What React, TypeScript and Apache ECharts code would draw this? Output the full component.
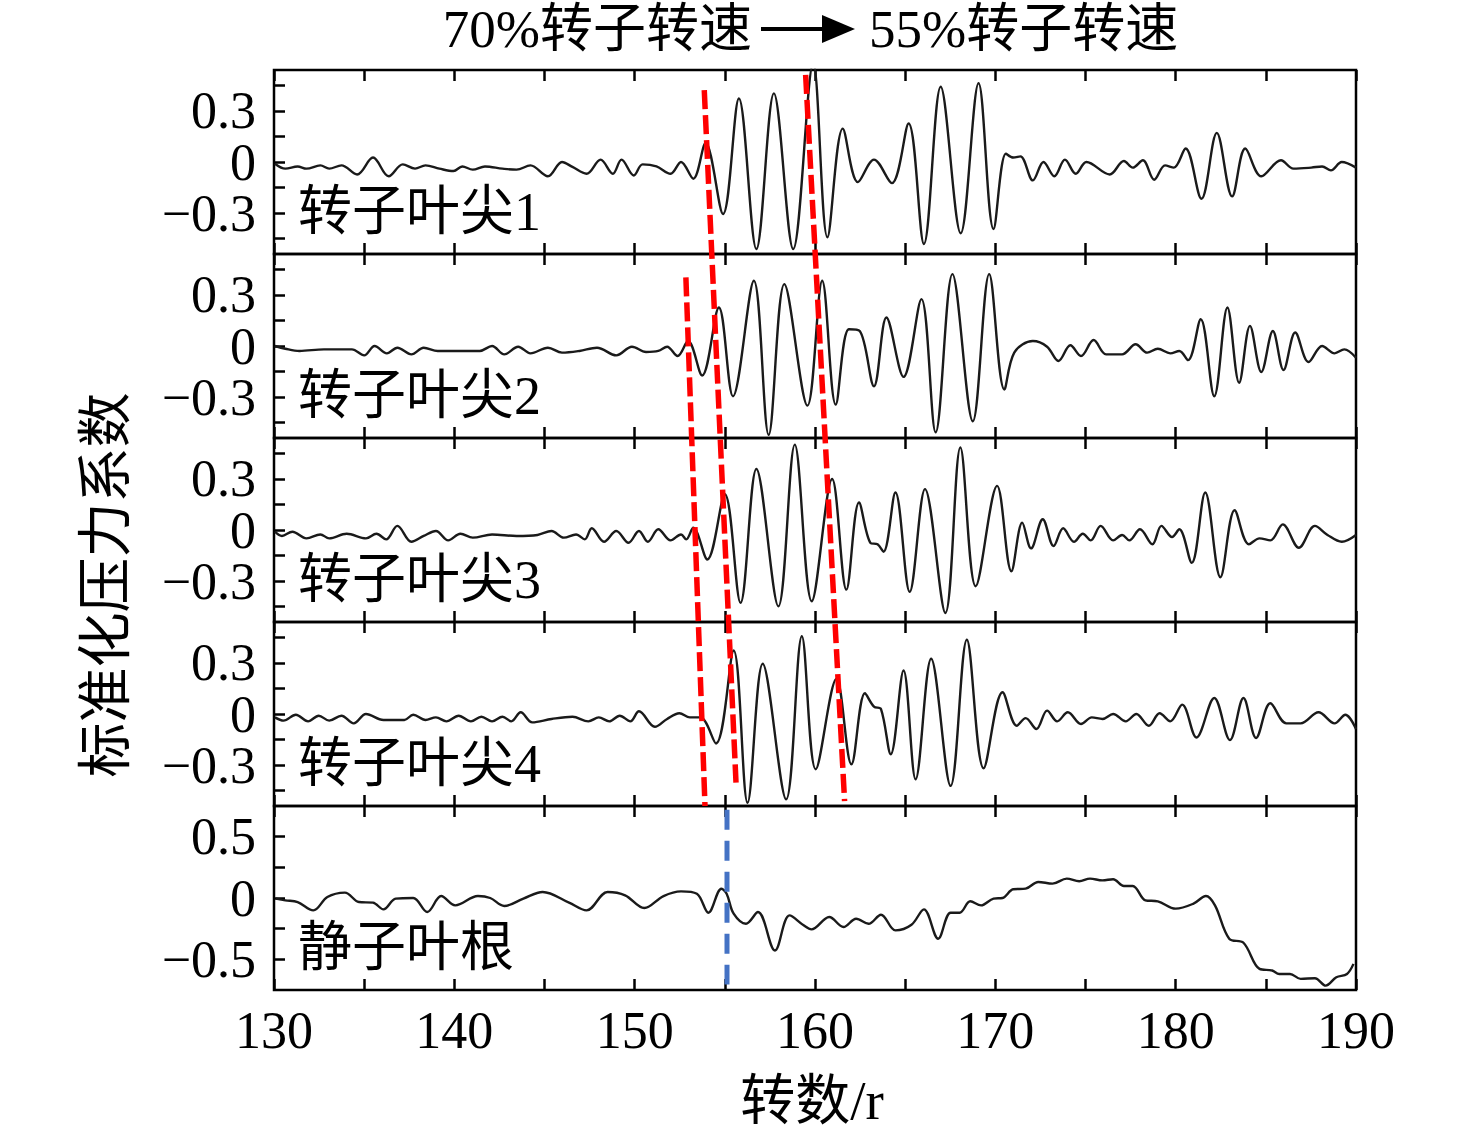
import React, { useEffect, useRef } from "react";
import * as echarts from "echarts";

// ---------- data ----------
const xMin = 130;
const xMax = 190;
const xTickStep = 5;

const panelNames = ["转子叶尖1", "转子叶尖2", "转子叶尖3", "转子叶尖4", "静子叶根"];
const panelRange = [0.54, 0.54, 0.54, 0.54, 0.75];
const tipTickValues = [-0.45, -0.3, -0.15, 0, 0.15, 0.3, 0.45];
const tipLabelValues = [-0.3, 0, 0.3];
const rootTickValues = [-0.5, -0.25, 0, 0.25, 0.5];
const rootLabelValues = [-0.5, 0, 0.5];

const tip1: number[][] = [
  [130.05,-0.010],[130.63,-0.039],[131.31,-0.026],[131.80,-0.039],[132.57,-0.020],[133.06,-0.039],[133.74,-0.020],[134.61,-0.073],[135.49,0.026],[136.36,-0.084],[137.14,-0.014],[137.82,-0.039],[138.40,-0.020],[139.17,-0.039],[139.95,-0.053],[140.44,-0.026],[141.02,-0.045],[141.70,-0.026],[142.67,-0.039],[143.45,-0.045],[144.22,-0.020],[145.19,-0.084],[145.97,0.000],[146.55,-0.029],[147.33,-0.069],[148.11,0.014],[148.79,-0.069],[149.27,0.014],[149.95,-0.079],[150.44,-0.014],[151.21,-0.026],[151.99,-0.069],[152.57,0.000],[153.25,-0.098],[153.93,0.110],[154.90,-0.305],[155.78,0.373],[156.75,-0.511],[157.72,0.403],[158.79,-0.511],[159.90,0.58],[160.69,-0.442],[161.54,0.196],[162.38,-0.118],[163.27,0.014],[164.26,-0.124],[165.19,0.226],[166.04,-0.481],[166.97,0.442],[168.08,-0.418],[169.07,0.462],[169.90,-0.393],[170.59,0.049],[170.99,0.026],[171.39,0.033],[172.08,-0.108],[172.67,0.000],[173.27,-0.084],[173.86,0.014],[174.46,-0.069],[175.05,0.000],[176.34,-0.073],[177.13,0.006],[177.62,-0.033],[178.18,0.010],[178.81,-0.104],[179.41,-0.020],[179.90,-0.033],[180.55,0.079],[181.43,-0.216],[182.28,0.171],[183.13,-0.202],[183.86,0.079],[184.75,-0.084],[185.84,0.010],[186.53,-0.039],[187.52,-0.033],[188.12,-0.026],[188.61,-0.049],[189.21,0.000],[190.00,-0.033],
];

const tip2: number[][] = [
  [130.05,0.000],[130.63,-0.016],[131.41,-0.029],[132.77,-0.020],[134.32,-0.020],[135.00,-0.055],[135.58,0.000],[136.26,-0.043],[136.84,-0.010],[137.62,-0.049],[138.30,-0.010],[139.08,-0.029],[140.34,-0.029],[141.41,-0.029],[142.09,0.000],[142.77,-0.049],[143.54,-0.004],[144.22,-0.043],[145.19,-0.010],[145.97,-0.039],[146.94,-0.029],[147.91,-0.010],[148.98,-0.055],[149.85,-0.004],[150.63,-0.035],[151.31,-0.029],[151.80,-0.004],[152.38,-0.059],[152.96,0.029],[153.74,-0.173],[154.67,0.226],[155.45,-0.295],[156.61,0.383],[157.43,-0.521],[158.30,0.363],[159.58,-0.350],[160.40,0.383],[161.15,-0.344],[161.88,0.098],[162.48,0.088],[163.27,-0.236],[163.96,0.167],[164.91,-0.181],[165.90,0.275],[166.69,-0.507],[167.62,0.422],[168.75,-0.442],[169.66,0.422],[170.50,-0.255],[171.05,-0.039],[172.08,0.029],[172.87,-0.004],[173.50,-0.088],[174.16,0.004],[174.75,-0.059],[175.45,0.035],[176.14,-0.049],[177.03,-0.049],[177.78,0.010],[178.42,-0.039],[179.01,-0.016],[179.70,-0.043],[180.20,-0.029],[180.69,-0.083],[181.39,0.157],[182.14,-0.295],[182.87,0.226],[183.52,-0.216],[184.12,0.118],[184.75,-0.153],[185.39,0.088],[185.98,-0.141],[186.63,0.079],[187.37,-0.094],[188.12,0.000],[188.81,-0.043],[189.35,-0.020],[190.00,-0.069],
];

const tip3: number[][] = [
  [130.05,-0.010],[130.44,-0.035],[131.02,-0.010],[131.80,-0.049],[132.57,-0.026],[133.06,-0.049],[134.03,-0.022],[135.10,-0.049],[135.68,-0.022],[136.22,-0.055],[136.84,0.024],[137.62,-0.069],[138.30,-0.035],[138.98,-0.006],[139.66,-0.061],[140.34,-0.022],[141.02,-0.045],[142.09,-0.026],[143.45,-0.035],[144.61,-0.029],[145.39,-0.006],[146.07,-0.045],[146.75,-0.026],[147.23,-0.055],[147.62,0.010],[148.30,-0.069],[148.98,-0.006],[149.66,-0.075],[150.24,-0.006],[150.73,-0.069],[151.31,0.004],[151.99,-0.061],[152.57,-0.026],[152.86,-0.055],[153.25,0.014],[154.03,-0.173],[155.00,0.210],[155.87,-0.428],[156.75,0.358],[157.97,-0.448],[158.88,0.501],[159.82,-0.418],[160.95,0.299],[161.74,-0.350],[162.44,0.161],[163.07,-0.075],[163.47,-0.084],[163.80,-0.128],[164.46,0.220],[165.25,-0.363],[166.10,0.240],[167.23,-0.487],[168.06,0.485],[168.91,-0.330],[170.10,0.259],[170.89,-0.242],[171.49,0.043],[171.98,-0.108],[172.63,0.063],[173.23,-0.094],[173.76,0.010],[174.36,-0.069],[174.85,-0.022],[175.29,-0.061],[175.84,0.024],[176.53,-0.061],[177.03,-0.029],[177.43,-0.061],[178.02,0.004],[178.71,-0.084],[179.21,0.024],[179.80,-0.041],[180.20,0.004],[180.89,-0.193],[181.64,0.220],[182.48,-0.277],[183.27,0.116],[184.06,-0.084],[184.65,-0.049],[185.25,-0.061],[185.94,0.033],[186.83,-0.104],[187.72,0.024],[188.42,-0.029],[189.21,-0.069],[190.00,-0.029],
];

const tip4: number[][] = [
  [130.05,-0.020],[130.53,-0.039],[131.21,-0.004],[131.89,-0.043],[132.48,-0.010],[133.06,-0.039],[133.74,-0.010],[134.42,-0.055],[135.10,0.000],[136.07,-0.035],[137.23,-0.035],[137.72,-0.004],[138.40,-0.035],[138.98,-0.020],[139.56,-0.043],[140.24,-0.010],[140.92,-0.043],[141.50,-0.016],[142.09,-0.043],[142.67,-0.016],[143.16,-0.043],[143.68,0.010],[144.32,-0.049],[145.39,-0.029],[146.55,-0.016],[147.43,-0.043],[148.01,-0.020],[148.59,-0.043],[149.17,-0.010],[149.76,-0.043],[150.24,0.016],[151.12,-0.075],[151.80,-0.029],[152.48,0.004],[153.06,-0.020],[153.64,-0.020],[154.51,-0.173],[155.49,0.373],[156.26,-0.521],[157.10,0.295],[158.40,-0.501],[159.27,0.456],[160.04,-0.324],[161.19,0.206],[162.02,-0.295],[162.77,0.122],[163.27,0.043],[163.66,0.029],[164.20,-0.236],[164.91,0.255],[165.58,-0.383],[166.44,0.324],[167.52,-0.422],[168.42,0.436],[169.35,-0.318],[170.40,0.128],[171.19,-0.069],[171.68,-0.024],[172.28,-0.088],[172.87,0.020],[173.43,-0.043],[174.02,0.010],[174.75,-0.059],[175.35,-0.020],[175.94,-0.029],[176.53,0.000],[177.23,-0.043],[177.82,0.000],[178.51,-0.069],[179.11,0.004],[179.70,-0.043],[180.36,0.055],[181.15,-0.138],[182.14,0.094],[183.01,-0.153],[183.76,0.094],[184.46,-0.141],[185.25,0.063],[186.14,-0.055],[186.93,-0.055],[187.92,0.010],[188.81,-0.055],[189.41,-0.004],[190.00,-0.088],
];

const root: number[][] = [
  [130.10,-0.005],[130.63,-0.019],[131.31,-0.033],[132.18,-0.101],[132.96,0.008],[133.93,0.044],[134.71,-0.033],[135.49,-0.038],[136.07,-0.093],[136.75,-0.005],[137.72,0.000],[138.50,-0.114],[139.27,0.016],[140.05,-0.060],[141.31,0.016],[141.99,0.000],[142.77,-0.065],[143.83,-0.005],[144.90,0.049],[146.36,-0.038],[147.33,-0.101],[148.50,0.049],[149.47,0.022],[150.53,-0.082],[151.60,0.016],[152.57,0.054],[153.45,0.035],[154.09,-0.120],[154.81,0.076],[155.10,0.035],[155.49,-0.128],[156.17,-0.210],[156.84,-0.114],[157.78,-0.428],[158.59,-0.142],[159.37,-0.223],[159.80,-0.256],[160.79,-0.155],[161.58,-0.237],[162.28,-0.169],[162.97,-0.210],[163.66,-0.136],[164.46,-0.264],[165.35,-0.218],[166.04,-0.093],[166.83,-0.332],[167.52,-0.120],[168.02,-0.120],[168.61,-0.027],[169.21,-0.060],[169.90,-0.005],[170.40,0.000],[170.99,0.071],[171.68,0.076],[172.38,0.131],[173.17,0.117],[173.96,0.158],[174.65,0.136],[175.25,0.158],[175.94,0.144],[176.53,0.153],[177.13,0.098],[177.62,0.098],[178.32,-0.019],[179.01,-0.027],[180.00,-0.087],[180.99,-0.046],[181.68,0.016],[182.18,-0.060],[182.97,-0.332],[183.76,-0.365],[184.65,-0.578],[185.35,-0.591],[185.74,-0.619],[186.34,-0.619],[186.93,-0.659],[187.72,-0.654],[188.32,-0.714],[188.91,-0.646],[189.50,-0.619],[189.86,-0.537],
];

// Guide lines in "panel units" (0 = bottom of panel 5, 5 = top of panel 1)
const redGuide1: number[][] = [[152.84, 3.873], [153.90, 1.0]];
const redGuide2: number[][] = [[153.86, 4.891], [155.62, 1.127]];
const redGuide3: number[][] = [[159.48, 4.973], [161.64, 1.027]];
const blueGuide: number[][] = [[155.12, 0.98], [155.12, 0.03]];

const panelData = [tip1, tip2, tip3, tip4, root];

// ---------- layout ----------
const W = 1476;
const H = 1137;
const GL = 274;
const GR = 1356;
const GTOP = 70;
const PH = 184;
const FONT = "'Liberation Serif', 'Noto Sans CJK SC', serif";

const fmt = (v: number) => {
  const s = String(Math.round(v * 100) / 100);
  return s.replace("-", "\u2212");
};

export default function App() {
  const ref = useRef<HTMLDivElement>(null);
  useEffect(() => {
    document.body.style.margin = "0";
    if (!ref.current) return;
    const chart = echarts.init(ref.current, undefined, { renderer: "svg" });

    const grids: any[] = [];
    const xAxes: any[] = [];
    const yAxes: any[] = [];
    const series: any[] = [];
    const tickStyle = { color: "#000", width: 2.5 };

    panelData.forEach((d, i) => {
      const top = GTOP + PH * i;
      grids.push({
        left: GL,
        width: GR - GL,
        top,
        height: PH,
        show: true,
        borderColor: "#000",
        borderWidth: 2.5,
        backgroundColor: "transparent",
      });
      const isLast = i === panelData.length - 1;
      ["bottom", "top"].forEach((pos) => {
        xAxes.push({
          type: "value",
          gridIndex: i,
          position: pos,
          min: xMin,
          max: xMax,
          interval: xTickStep,
          axisLine: { show: false, onZero: false },
          axisTick: { show: true, inside: true, length: 11, lineStyle: tickStyle },
          splitLine: { show: false },
          axisLabel: {
            show: isLast && pos === "bottom",
            formatter: (v: number) => (v % 10 === 0 ? String(v) : ""),
            fontFamily: FONT,
            fontSize: 52,
            color: "#000",
            margin: 14,
          },
        });
      });
      const r = panelRange[i];
      const shown = isLast ? rootLabelValues : tipLabelValues;
      // padding values at the axis ends carry empty text, so the visible labels are never treated as min/max
      const labelVals = [-r, ...shown, r];
      yAxes.push({
        type: "value",
        gridIndex: i,
        min: -r,
        max: r,
        axisLine: { show: false, onZero: false },
        splitLine: { show: false },
        axisTick: {
          show: true,
          inside: true,
          length: 11,
          lineStyle: tickStyle,
          customValues: isLast ? rootTickValues : tipTickValues,
        },
        axisLabel: {
          customValues: labelVals,
          formatter: (v: number) => (shown.some((s) => Math.abs(s - v) < 1e-6) ? fmt(v) : ""),
          fontFamily: FONT,
          fontSize: 52,
          color: "#000",
          margin: 18,
        },
      });
      series.push({
        type: "line",
        xAxisIndex: i * 2,
        yAxisIndex: i,
        data: d,
        showSymbol: false,
        smooth: 0.35,
        clip: true,
        lineStyle: { color: "#1a1a1a", width: 2.4 },
      });
    });

    // overlay grid for guide lines
    const ov = panelData.length;
    grids.push({ left: GL, width: GR - GL, top: GTOP, height: PH * 5, show: false });
    xAxes.push({ type: "value", gridIndex: ov, min: xMin, max: xMax, show: false });
    yAxes.push({ type: "value", gridIndex: ov, min: 0, max: 5, show: false });
    const ovX = xAxes.length - 1;
    const ovY = yAxes.length - 1;
    [redGuide1, redGuide2, redGuide3].forEach((g) => {
      series.push({
        type: "line",
        xAxisIndex: ovX,
        yAxisIndex: ovY,
        data: g,
        showSymbol: false,
        z: 5,
        lineStyle: { color: "#ff0000", width: 5.5, type: [19, 6] },
      });
    });
    series.push({
      type: "line",
      xAxisIndex: ovX,
      yAxisIndex: ovY,
      data: blueGuide,
      showSymbol: false,
      z: 5,
      lineStyle: { color: "#4472c4", width: 5, type: [20, 11] },
    });

    const graphics: any[] = [];
    panelNames.forEach((name, i) => {
      graphics.push({
        type: "text",
        left: 298,
        top: GTOP + PH * i + 142 - 27,
        style: { text: name, font: `54px ${FONT}`, fill: "#000" },
      });
    });
    graphics.push(
      {
        type: "text",
        x: 752,
        y: 29,
        style: { text: "70%转子转速", font: `53px ${FONT}`, fill: "#000", textAlign: "right", textVerticalAlign: "middle" },
      },
      {
        type: "text",
        x: 869,
        y: 29,
        style: { text: "55%转子转速", font: `53px ${FONT}`, fill: "#000", textAlign: "left", textVerticalAlign: "middle" },
      },
      {
        type: "line",
        shape: { x1: 761, y1: 29, x2: 828, y2: 29 },
        style: { stroke: "#000", lineWidth: 4 },
      },
      {
        type: "polygon",
        shape: { points: [[822, 15], [855, 29], [822, 43]] },
        style: { fill: "#000" },
      },
      {
        type: "text",
        x: 105,
        y: 585,
        rotation: Math.PI / 2,
        style: { text: "标准化压力系数", font: `55px ${FONT}`, fill: "#000", textAlign: "center", textVerticalAlign: "middle" },
      },
      {
        type: "text",
        x: 812,
        y: 1100,
        style: { text: "转数/r", font: `55px ${FONT}`, fill: "#000", textAlign: "center", textVerticalAlign: "middle" },
      }
    );

    chart.setOption({
      animation: false,
      backgroundColor: "#fff",
      grid: grids,
      xAxis: xAxes,
      yAxis: yAxes,
      series,
      graphic: graphics,
    });
    return () => chart.dispose();
  }, []);
  return <div ref={ref} style={{ width: W, height: H }} />;
}
